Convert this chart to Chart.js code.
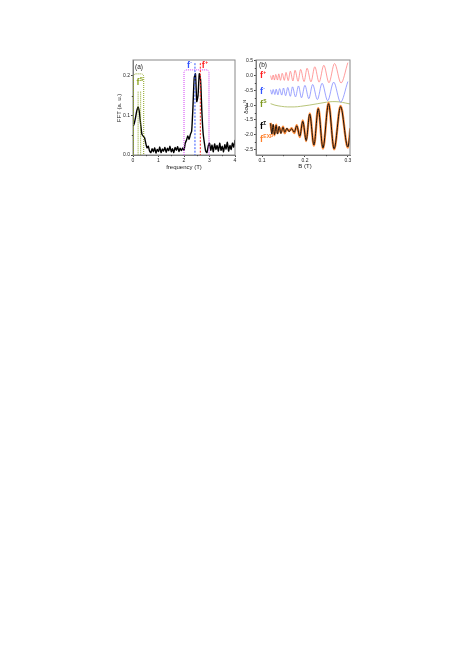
<!DOCTYPE html>
<html><head><meta charset="utf-8">
<script src="https://cdn.jsdelivr.net/npm/chart.js@4"></script>
<style>
body{margin:0;background:#fff;width:463px;height:656px;position:relative;overflow:hidden}
canvas{position:absolute}
</style></head><body>
<canvas id="fft" width="145" height="130" style="left:100px;top:50px"></canvas>
<canvas id="osc" width="135" height="130" style="left:225px;top:50px"></canvas>
<script>
// panel (a): FFT spectrum
var freq = [0,0.05,0.1,0.15,0.2,0.25,0.3,0.35,0.4,0.45,0.5,0.55,0.6,0.65,0.7,0.75,0.8,0.85,0.9,0.95,
  1,1.05,1.1,1.15,1.2,1.25,1.3,1.35,1.4,1.45,1.5,1.55,1.6,1.65,1.7,1.75,1.8,1.85,1.9,1.95,
  2,2.05,2.1,2.15,2.2,2.25,2.3,2.35,2.4,2.45,2.5,2.55,2.6,2.65,2.7,2.75,2.8,2.85,2.9,2.95,
  3,3.05,3.1,3.15,3.2,3.25,3.3,3.35,3.4,3.45,3.5,3.55,3.6,3.65,3.7,3.75,3.8,3.85,3.9,3.95,4];
var fft = [0.072,0.080,0.095,0.112,0.121,0.108,0.078,0.052,0.048,0.044,0.030,0.018,0.022,0.010,0.006,0.016,0.008,0.018,0.005,0.014,
  0.009,0.020,0.006,0.015,0.010,0.019,0.007,0.017,0.011,0.022,0.008,0.016,0.006,0.019,0.012,0.021,0.009,0.017,0.011,0.018,
  0.012,0.030,0.038,0.048,0.040,0.052,0.060,0.120,0.195,0.205,0.135,0.150,0.205,0.190,0.110,0.055,0.030,0.010,0.006,0.022,
  0.030,0.012,0.025,0.008,0.028,0.014,0.024,0.010,0.030,0.012,0.022,0.008,0.026,0.015,0.032,0.010,0.024,0.014,0.030,0.020,0.038];
var fftXTicks = [0,1,2,3,4];
var fftYTicks = [0,0.1,0.2];
var fftXMinor = [0.5,1.5,2.5,3.5];
var fftYMinor = [0.05,0.15];

// panel (b): oscillations vs field
var bPlus = [0.120,0.123,0.126,0.129,0.132,0.136,0.139,0.143,0.147,0.152,0.156,0.161,0.166,0.172,0.177,0.184,0.190,0.198,0.205,0.214,0.223,0.233,0.244,0.256,0.269,0.284,0.300];
var fPlus = [0.00,-0.14,0.02,-0.15,0.04,-0.15,0.06,-0.16,0.08,-0.16,0.11,-0.17,0.15,-0.18,0.18,-0.19,0.21,-0.20,0.25,-0.21,0.30,-0.22,0.35,-0.24,0.41,-0.25,0.44];
var bMinus = [0.120,0.123,0.126,0.130,0.133,0.137,0.141,0.146,0.150,0.155,0.160,0.166,0.171,0.178,0.185,0.192,0.200,0.209,0.218,0.229,0.240,0.253,0.267,0.283,0.300];
var fMinus = [-0.48,-0.63,-0.47,-0.64,-0.46,-0.65,-0.44,-0.66,-0.42,-0.68,-0.40,-0.70,-0.38,-0.72,-0.35,-0.75,-0.33,-0.78,-0.30,-0.81,-0.26,-0.85,-0.22,-0.90,-0.20];
var bS = [0.120,0.130,0.145,0.160,0.175,0.190,0.210,0.230,0.250,0.265,0.280,0.295,0.305];
var fS = [-0.95,-1.00,-1.04,-1.06,-1.06,-1.04,-1.00,-0.95,-0.90,-0.88,-0.89,-0.93,-0.96];
var bSum = [0.120,0.123,0.126,0.129,0.133,0.136,0.140,0.144,0.149,0.153,0.158,0.163,0.169,0.175,0.181,0.188,0.195,0.203,0.211,0.221,0.231,0.242,0.255,0.268,0.283,0.300,0.306];
var fSum = [-1.62,-1.98,-1.65,-2.00,-1.68,-1.98,-1.72,-1.96,-1.75,-1.92,-1.78,-1.90,-1.80,-1.92,-1.70,-2.05,-1.55,-2.20,-1.30,-2.35,-1.12,-2.45,-0.95,-2.48,-1.05,-2.42,-1.80];
var fExp = [-1.60,-1.95,-1.68,-2.02,-1.66,-1.95,-1.75,-1.93,-1.73,-1.95,-1.80,-1.88,-1.78,-1.95,-1.68,-2.08,-1.52,-2.22,-1.28,-2.37,-1.10,-2.47,-0.93,-2.50,-1.03,-2.44,-1.78];
var oscXTicks = [0.1,0.2,0.3];
var oscYTicks = [0.5,0,-0.5,-1,-1.5,-2,-2.5];
var oscXMinor = [0.15,0.25];
var oscYMinor = [0.25,-0.25,-0.75,-1.25,-1.75,-2.25];

var FONT = 'Liberation Sans';

function pts(xs, ys) {
  return xs.map(function (x, i) { return {x: x, y: ys[i]}; });
}

function axis(min, max, ticks, digits, fitKey, fitVal) {
  return {
    type: 'linear', min: min, max: max,
    afterBuildTicks: function (s) { s.ticks = ticks.map(function (v) { return {value: v}; }); },
    afterFit: function (s) { s[fitKey] = fitVal; },
    ticks: {
      font: {family: FONT, size: 5}, color: '#222', padding: 1, maxRotation: 0, autoSkip: false,
      callback: function (v) { return digits < 0 ? String(v) : Number(v).toFixed(digits); }
    },
    grid: {drawOnChartArea: false, tickLength: 2, color: '#444'},
    border: {color: '#777', width: 1}
  };
}

function fLabel(ctx, x, y, sup, color) {
  ctx.fillStyle = color;
  ctx.font = 'bold 9px ' + FONT;
  ctx.textAlign = 'left';
  ctx.textBaseline = 'alphabetic';
  ctx.fillText('f', x, y);
  var w = ctx.measureText('f').width;
  ctx.font = 'bold 5px ' + FONT;
  ctx.fillText(sup, x + w + 0.3, y - 4);
}

function titles(ctx, xt, xx, xy, yt, yx, yy) {
  ctx.save();
  ctx.fillStyle = '#222';
  ctx.font = '6px ' + FONT;
  ctx.textAlign = 'center';
  ctx.textBaseline = 'middle';
  ctx.fillText(xt, xx, xy);
  ctx.translate(yx, yy);
  ctx.rotate(-Math.PI / 2);
  ctx.fillText(yt, 0, 0);
  ctx.restore();
}

// dotted box with rounded top corners
function roundBox(ctx, x1, x2, yTop, yBot, r, color) {
  ctx.save();
  ctx.strokeStyle = color;
  ctx.lineWidth = 1;
  ctx.setLineDash([1, 1]);
  ctx.beginPath();
  ctx.moveTo(x1, yBot);
  ctx.lineTo(x1, yTop + r);
  ctx.quadraticCurveTo(x1, yTop, x1 + r, yTop);
  ctx.lineTo(x2 - r, yTop);
  ctx.quadraticCurveTo(x2, yTop, x2, yTop + r);
  ctx.lineTo(x2, yBot);
  ctx.stroke();
  ctx.restore();
}

function vline(ctx, x, y1, y2, color, dash) {
  ctx.save();
  ctx.strokeStyle = color;
  ctx.lineWidth = 1;
  ctx.setLineDash(dash);
  ctx.beginPath();
  ctx.moveTo(x, y1);
  ctx.lineTo(x, y2);
  ctx.stroke();
  ctx.restore();
}

// box frame plus short minor ticks
function frame(xMinor, yMinor) {
  return {
    id: 'frame',
    afterDraw: function (chart) {
      var a = chart.chartArea, ctx = chart.ctx;
      ctx.save();
      ctx.strokeStyle = '#888';
      ctx.lineWidth = 1;
      ctx.strokeRect(a.left, a.top, a.right - a.left, a.bottom - a.top);
      ctx.strokeStyle = '#444';
      ctx.beginPath();
      xMinor.forEach(function (v) {
        var x = Math.round(chart.scales.x.getPixelForValue(v)) + 0.5;
        ctx.moveTo(x, a.bottom); ctx.lineTo(x, a.bottom + 1.2);
      });
      yMinor.forEach(function (v) {
        var y = Math.round(chart.scales.y.getPixelForValue(v)) + 0.5;
        ctx.moveTo(a.left, y); ctx.lineTo(a.left - 1.2, y);
      });
      ctx.stroke();
      ctx.restore();
    }
  };
}

var annotA = {
  id: 'annotA',
  afterDraw: function (chart) {
    var ctx = chart.ctx, xs = chart.scales.x, ys = chart.scales.y;
    var X = function (v) { return xs.getPixelForValue(v); };
    var Y = function (v) { return ys.getPixelForValue(v); };
    var green = '#8ba31f';
    roundBox(ctx, X(0) + 0.5, X(0.42), Y(0.205), Y(0), 3, green);
    vline(ctx, X(0.2), Y(0.16), Y(0), green, [1, 1]);
    vline(ctx, X(0.3), Y(0.16), Y(0), green, [1, 1]);
    roundBox(ctx, X(2.0), X(2.98), Y(0.215), Y(0), 3, '#d23cf5');
    vline(ctx, X(2.43), Y(0.232), Y(0), '#3355ff', [2, 1.5]);
    vline(ctx, X(2.64), Y(0.232), Y(0), '#ff2020', [2, 1.5]);
    fLabel(ctx, X(0.14), Y(0.178), 'S', green);
    fLabel(ctx, X(2.12), Y(0.219), '-', '#3355ff');
    fLabel(ctx, X(2.70), Y(0.219), '+', '#ff2020');
    ctx.save();
    ctx.fillStyle = '#222';
    ctx.font = '6.5px ' + FONT;
    ctx.textAlign = 'left';
    ctx.fillText('(a)', X(0.08), Y(0.218));
    ctx.restore();
    titles(ctx, 'frequency (T)', 84, 117, 'FFT (a. u.)', 19, 58);
  }
};

var annotB = {
  id: 'annotB',
  afterDraw: function (chart) {
    var ctx = chart.ctx, xs = chart.scales.x, ys = chart.scales.y;
    var X = function (v) { return xs.getPixelForValue(v); };
    var Y = function (v) { return ys.getPixelForValue(v); };
    ctx.save();
    ctx.fillStyle = '#222';
    ctx.font = '6.5px ' + FONT;
    ctx.textAlign = 'left';
    ctx.fillText('(b)', X(0.093), Y(0.3));
    ctx.restore();
    fLabel(ctx, X(0.0955), Y(-0.08), '+', '#ff2020');
    fLabel(ctx, X(0.0955), Y(-0.62), '-', '#3355ff');
    fLabel(ctx, X(0.0955), Y(-1.05), 'S', '#7f9a20');
    fLabel(ctx, X(0.0955), Y(-1.80), '\u03A3', '#000');
    fLabel(ctx, X(0.0955), Y(-2.25), 'EXP', '#ff7f2a');
    titles(ctx, 'B (T)', 80, 116, '\u03B4\u03C3\u2093\u2093\u1D3A', 21, 57);
  }
};

var common = {
  responsive: false,
  animation: false,
  events: [],
  layout: {padding: {top: 10, right: 10, left: 0, bottom: 0}},
  elements: {point: {radius: 0}},
  plugins: {legend: {display: false}, tooltip: {enabled: false}}
};

new Chart(document.getElementById('fft'), {
  type: 'line',
  data: {
    datasets: [{
      data: pts(freq, fft), borderColor: '#000', borderWidth: 1.4, tension: 0.2
    }]
  },
  options: Object.assign({}, common, {
    scales: {
      x: axis(0, 4, fftXTicks, -1, 'height', 25),
      y: axis(0, 0.24, fftYTicks, 1, 'width', 33)
    }
  }),
  plugins: [frame(fftXMinor, fftYMinor), annotA]
});

function osc(xs, ys, color, width, order) {
  return {data: pts(xs, ys), borderColor: color, borderWidth: width, order: order, cubicInterpolationMode: 'monotone'};
}

// lower order is drawn on top: black model over the orange experiment
new Chart(document.getElementById('osc'), {
  type: 'line',
  data: {
    datasets: [
      osc(bPlus, fPlus, 'rgba(255,110,110,0.85)', 0.8, 3),
      osc(bMinus, fMinus, 'rgba(110,120,255,0.85)', 0.8, 3),
      osc(bS, fS, '#b0bd6a', 0.9, 3),
      osc(bSum, fExp, '#ff8c3a', 2.4, 2),
      osc(bSum, fSum, '#111', 1.0, 1)
    ]
  },
  options: Object.assign({}, common, {
    scales: {
      x: axis(0.086, 0.305, oscXTicks, 1, 'height', 25),
      y: axis(-2.69, 0.53, oscYTicks, 1, 'width', 31)
    }
  }),
  plugins: [frame(oscXMinor, oscYMinor), annotB]
});
</script>
</body></html>
